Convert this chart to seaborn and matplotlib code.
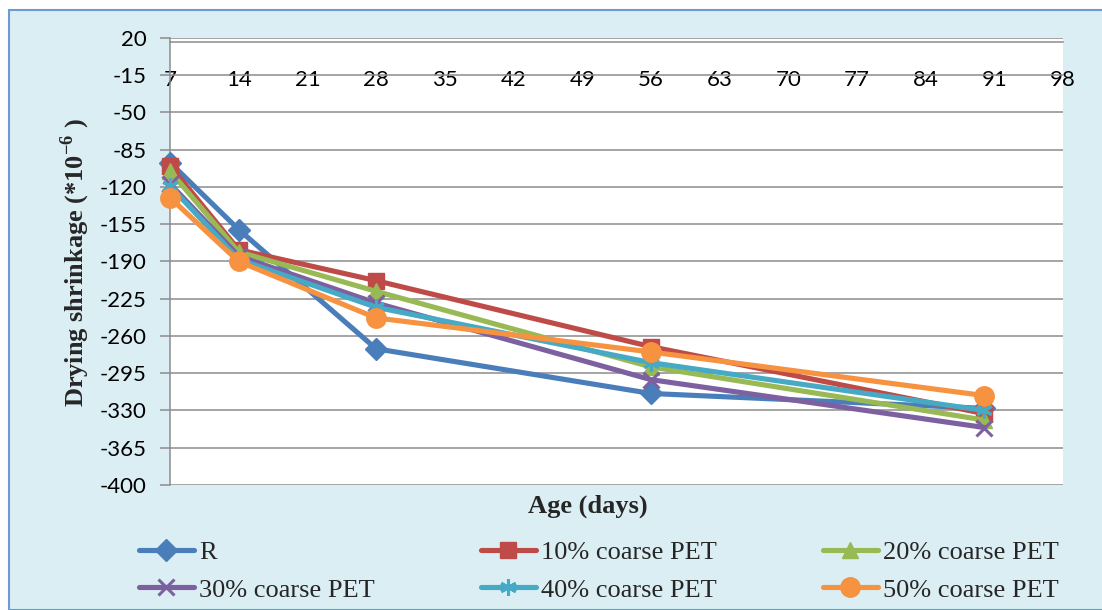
import matplotlib
matplotlib.use("Agg")
import matplotlib.pyplot as plt
from matplotlib.patches import Rectangle
import seaborn as sns
import pandas as pd

# ---- data ----
days = [7, 14, 28, 56, 90]
series_names = ["R", "10% coarse PET", "20% coarse PET",
                "30% coarse PET", "40% coarse PET", "50% coarse PET"]
r_vals = [-97, -160, -272, -314, -328]
pet10_vals = [-100, -179, -208, -270, -333]
pet20_vals = [-105, -181, -218, -289, -339]
pet30_vals = [-117, -185, -229, -301, -346]
pet40_vals = [-119, -188, -233, -285, -330]
pet50_vals = [-130, -190, -243, -275, -316]
x_ticks = list(range(7, 99, 7))
y_ticks = list(range(-400, 21, 35))

all_vals = [r_vals, pet10_vals, pet20_vals, pet30_vals, pet40_vals, pet50_vals]
colors = ["#4A7EBB", "#BE4B48", "#98B954", "#7D60A0", "#46AAC5", "#F69240"]
markers = ["D", "s", "^", "x", (6, 2, 0), "o"]
msizes = [11, 12, 12, 11, 12, 14]

sns.set_theme(style="white")
plt.rcParams["font.family"] = ["Lato", "DejaVu Sans"]
plt.rcParams["mathtext.fontset"] = "custom"
plt.rcParams["mathtext.rm"] = "Liberation Serif"
plt.rcParams["mathtext.bf"] = "Liberation Serif:bold"

W, H = 1102, 610
fig = plt.figure(figsize=(W / 100, H / 100), dpi=100)
fig.patch.set_facecolor("white")
bg = Rectangle((9 / W, 0), 1 - 9 / W + 0.01, 1 - 10 / H,
               transform=fig.transFigure, facecolor="#DBEEF4",
               edgecolor="#6C9AD6", linewidth=1.5, zorder=-10)
fig.add_artist(bg)

ax = fig.add_axes([170 / W, 1 - 485 / H, (1063 - 170) / W, (485 - 38) / H])
ax.set_zorder(1)
ax.set_facecolor("white")

df = pd.DataFrame({"day": days * len(series_names),
                   "val": sum(all_vals, []),
                   "series": [n for n in series_names for _ in days]})

for name, c, m, ms in zip(series_names, colors, markers, msizes):
    sub = df[df["series"] == name]
    sns.lineplot(data=sub, x="day", y="val", ax=ax, color=c, marker=m,
                 markersize=ms, markeredgecolor=c, markerfacecolor=c,
                 markeredgewidth=2.2 if m in ("x", (6, 2, 0)) else 1,
                 linewidth=3.7, label=name, legend=False, zorder=3,
                 clip_on=False)

ax.set_xlim(7, 98)
ax.set_ylim(-400, 20)
ax.set_xticks(x_ticks)
ax.set_yticks(y_ticks)
ax.set_xticklabels([str(t) for t in x_ticks])
ax.set_yticklabels([str(t) for t in y_ticks])
ax.yaxis.grid(True, color="#8C8C8C", linewidth=1.1)
ax.xaxis.grid(False)
for s in ["top", "right"]:
    ax.spines[s].set_visible(False)
ax.spines["left"].set_color("#8C8C8C")
ax.spines["left"].set_linewidth(1.1)
ax.spines["bottom"].set_position(("data", 16))
ax.spines["bottom"].set_color("#8C8C8C")
ax.spines["bottom"].set_linewidth(1.1)
ax.tick_params(axis="x", direction="out", length=6, width=1.1, color="#8C8C8C",
               pad=14, labelsize=16, labelcolor="black")
ax.tick_params(axis="y", direction="out", length=7, width=1.1, color="#8C8C8C",
               pad=10, labelsize=16, labelcolor="black", left=True)
ax.set_xlabel("")
ax.set_ylabel("")

fig.text(588 / W, 1 - 506 / H, "Age (days)", ha="center", va="center",
         fontsize=19, fontweight="bold", family="Liberation Serif")
fig.text(75 / W, 1 - 262 / H, r"Drying shrinkage (*10$^{\mathbf{-6}}$ )",
         ha="center", va="center", rotation=90, fontsize=19,
         fontweight="bold", family="Liberation Serif")

handles, labels = ax.get_legend_handles_labels()
order = [0, 3, 1, 4, 2, 5]
leg = fig.legend([handles[i] for i in order], [labels[i] for i in order],
                 loc="center", bbox_to_anchor=(599 / W, 1 - 571 / H), ncol=3,
                 frameon=False, prop={"family": "Liberation Serif", "size": 19},
                 handlelength=2.1, handletextpad=0.2, columnspacing=4.0,
                 labelspacing=0.55, borderaxespad=0)

fig.savefig("out.png", dpi=100, facecolor="white")
